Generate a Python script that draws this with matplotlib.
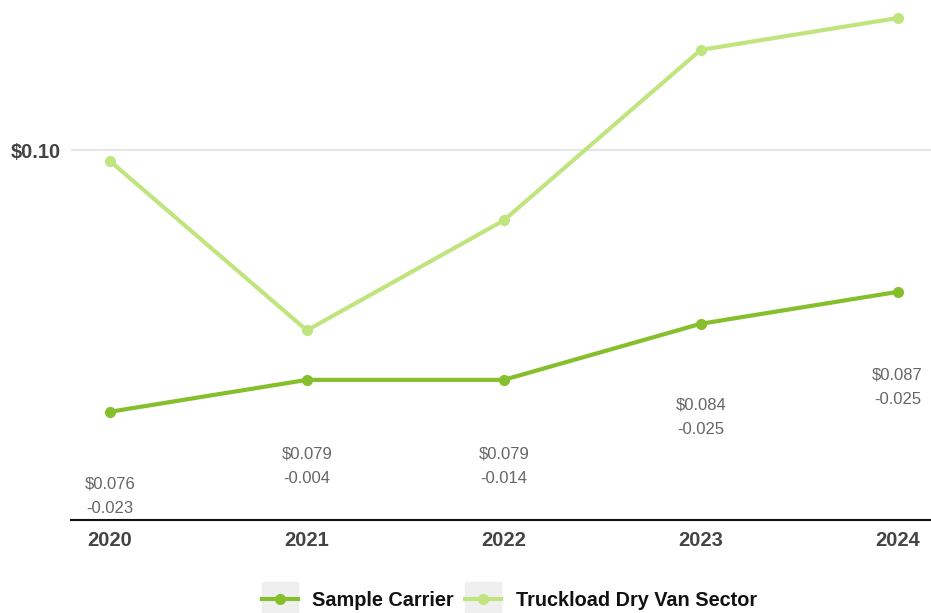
import matplotlib
matplotlib.use('Agg')
import matplotlib.pyplot as plt
from matplotlib.patches import Rectangle

plt.rcParams['font.family'] = ['Liberation Sans', 'DejaVu Sans']

years = ['2020', '2021', '2022', '2023', '2024']
carrier = [0.0762, 0.0791, 0.0791, 0.0842, 0.0871]
sector = [0.0990, 0.0836, 0.0936, 0.1091, 0.1120]
carrierLabels = ['$0.076', '$0.079', '$0.079', '$0.084', '$0.087']
diffLabels = ['-0.023', '-0.004', '-0.014', '-0.025', '-0.025']

carrierColor = '#86bf2c'
sectorColor = '#c0e57f'

# how far below each point the value labels sit (points)
labelDrop = [51.8, 53.3, 53.3, 58.3, 59.8]

fig = plt.figure(figsize=(9.31, 6.13), dpi=100)
ax = fig.add_axes([71 / 931, 93 / 613, 860 / 931, 520 / 613])

xs = list(range(len(years)))
ax.plot(xs, sector, color=sectorColor, lw=3, marker='o', ms=7, label='Truckload Dry Van Sector', zorder=3)
ax.plot(xs, carrier, color=carrierColor, lw=3, marker='o', ms=7, label='Sample Carrier', zorder=4)

for x, y, l1, l2, d in zip(xs, carrier, carrierLabels, diffLabels, labelDrop):
    ax.annotate(l1, (x, y), xytext=(0, -d), textcoords='offset points',
                ha='center', va='center', fontsize=12, color='#666666')
    ax.annotate(l2, (x, y), xytext=(0, -d - 18), textcoords='offset points',
                ha='center', va='center', fontsize=12, color='#666666')

ax.set_xlim(-0.198, 4.17)
ax.set_ylim(0.06636, 0.11364)
ax.set_xticks(xs)
ax.set_xticklabels(years, fontsize=14.5, fontweight='bold', color='#444444')
ax.set_yticks([0.10])
ax.set_yticklabels(['$0.10'], fontsize=14.5, fontweight='bold', color='#444444')
ax.tick_params(axis='both', length=0)
ax.tick_params(axis='x', pad=8)
ax.tick_params(axis='y', pad=7)
ax.grid(axis='y', color='#e6e6e6', lw=1.5)
ax.set_axisbelow(True)
for side in ['top', 'right', 'left']:
    ax.spines[side].set_visible(False)
ax.spines['bottom'].set_color('#111111')
ax.spines['bottom'].set_linewidth(1.5)

handles, labels = ax.get_legend_handles_labels()
leg = fig.legend(handles[::-1], labels[::-1], loc='center', bbox_to_anchor=(0.547, 13 / 613),
                 ncol=2, frameon=False, prop={'size': 14.3, 'weight': 'bold'},
                 handlelength=1.8, handletextpad=0.75, columnspacing=0.55)
for t in leg.get_texts():
    t.set_color('#111111')

fig.canvas.draw()
for h in leg.legend_handles:
    bb = h.get_window_extent()
    cx = (bb.x0 + bb.x1) / 2
    cy = (bb.y0 + bb.y1) / 2
    w, hgt = 36, 34
    fig.patches.append(Rectangle(((cx - w / 2) / 931, (cy - hgt / 2) / 613), w / 931, hgt / 613,
                                 transform=fig.transFigure, color='#efefef', zorder=0))

fig.savefig('out.png', dpi=100)
